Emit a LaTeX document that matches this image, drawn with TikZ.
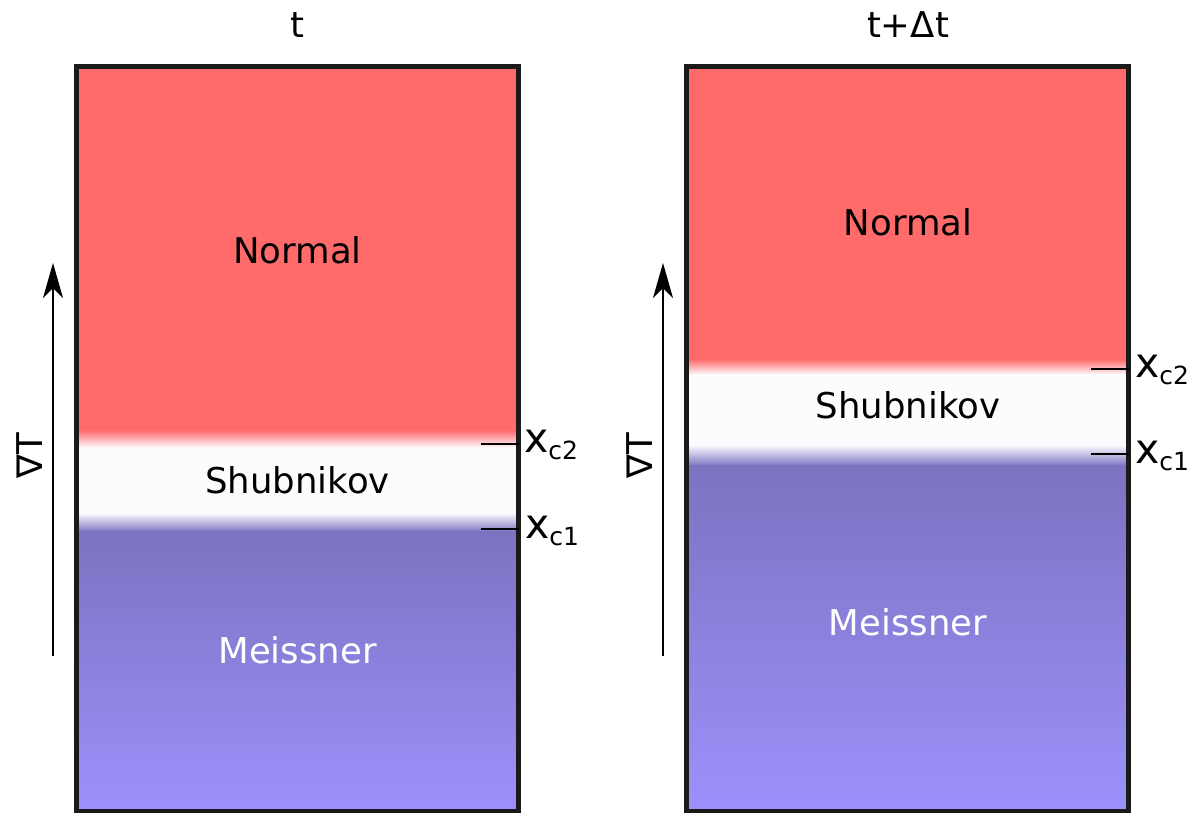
\documentclass[tikz,border=0pt]{standalone}
\usepackage{fontspec}
\setmainfont{DejaVu Sans}
\usetikzlibrary{arrows.meta}

\definecolor{normalred}{RGB}{255,107,107}
\definecolor{shubwhite}{RGB}{252,252,255}
\definecolor{meissnertop}{RGB}{124,115,193}
\definecolor{meissnerbot}{RGB}{156,145,251}
\definecolor{framegray}{RGB}{26,26,26}

\tikzset{
  phaselabel/.style={font=\fontsize{35.5}{40}\selectfont, inner sep=0pt},
  titlelabel/.style={font=\fontsize{35.5}{40}\selectfont, inner sep=0pt, anchor=base},
  gradlabel/.style={font=\fontsize{35.5}{40}\selectfont, inner sep=0pt, rotate=90},
  boxframe/.style={draw=framegray, line width=5pt},
  tickline/.style={draw=black, line width=1.5pt},
  critlabel/.style={inner sep=0pt, anchor=base west},
  gradarrow/.style={draw=black, line width=1.5pt,
    -{Stealth[length=35pt, width=20pt, inset=10pt]}},
}

% critical field label x_{c1}, x_{c2}
\newcommand{\critx}[1]{{\fontsize{41}{44}\selectfont x}\raisebox{-7pt}{\fontsize{25}{27}\selectfont #1}}

\begin{document}
\begin{tikzpicture}[x=1pt, y=-1pt]
\useasboundingbox (0,0) rectangle (1203,813);

% ---------- left panel (time t) ----------
\fill[normalred] (76.5,66.5) rectangle (518.5,431);
\shade[top color=normalred, bottom color=shubwhite] (76.5,430) rectangle (518.5,448);
\fill[shubwhite] (76.5,447) rectangle (518.5,514);
\shade[top color=shubwhite, bottom color=meissnertop] (76.5,513) rectangle (518.5,532);
\shade[top color=meissnertop, bottom color=meissnerbot] (76.5,531) rectangle (518.5,811);
\draw[boxframe] (76.5,66.5) rectangle (518.5,811);

\node[titlelabel] (tL) at (297.5,38) {t};
\node[phaselabel] (normalL) at (297.5,250) {Normal};
\node[phaselabel] (shubL) at (297.5,480) {Shubnikov};
\node[phaselabel, text=white] (meisL) at (297.5,650) {Meissner};

\coordinate (c2Lin) at (481,444);
\coordinate (c2Ledge) at (518.5,444);
\coordinate (c1Lin) at (481,529);
\coordinate (c1Ledge) at (518.5,529);
\draw[tickline] (c2Lin) -- (c2Ledge);
\draw[tickline] (c1Lin) -- (c1Ledge);
\node[critlabel] (xc2L) at (524,452) {\critx{c2}};
\node[critlabel] (xc1L) at (525,538) {\critx{c1}};

\coordinate (gLbot) at (53,656);
\coordinate (gLtop) at (53,263);
\draw[gradarrow] (gLbot) -- (gLtop);
\node[gradlabel] (gradL) at (30,456) {∇T};

% ---------- right panel (time t + Δt) ----------
\fill[normalred] (686.5,66.5) rectangle (1128.5,360);
\shade[top color=normalred, bottom color=shubwhite] (686.5,359) rectangle (1128.5,375);
\fill[shubwhite] (686.5,374) rectangle (1128.5,446);
\shade[top color=shubwhite, bottom color=meissnertop] (686.5,445) rectangle (1128.5,466);
\shade[top color=meissnertop, bottom color=meissnerbot] (686.5,465) rectangle (1128.5,811);
\draw[boxframe] (686.5,66.5) rectangle (1128.5,811);

\node[titlelabel] (tR) at (908,38) {t+Δt};
\node[phaselabel] (normalR) at (908,222) {Normal};
\node[phaselabel] (shubR) at (908,405) {Shubnikov};
\node[phaselabel, text=white] (meisR) at (908,622) {Meissner};

\coordinate (c2Rin) at (1091,369);
\coordinate (c2Redge) at (1128.5,369);
\coordinate (c1Rin) at (1091,454);
\coordinate (c1Redge) at (1128.5,454);
\draw[tickline] (c2Rin) -- (c2Redge);
\draw[tickline] (c1Rin) -- (c1Redge);
\node[critlabel] (xc2R) at (1135,377) {\critx{c2}};
\node[critlabel] (xc1R) at (1135,463) {\critx{c1}};

\coordinate (gRbot) at (663,656);
\coordinate (gRtop) at (663,263);
\draw[gradarrow] (gRbot) -- (gRtop);
\node[gradlabel] (gradR) at (640,456) {∇T};
\end{tikzpicture}
\end{document}
